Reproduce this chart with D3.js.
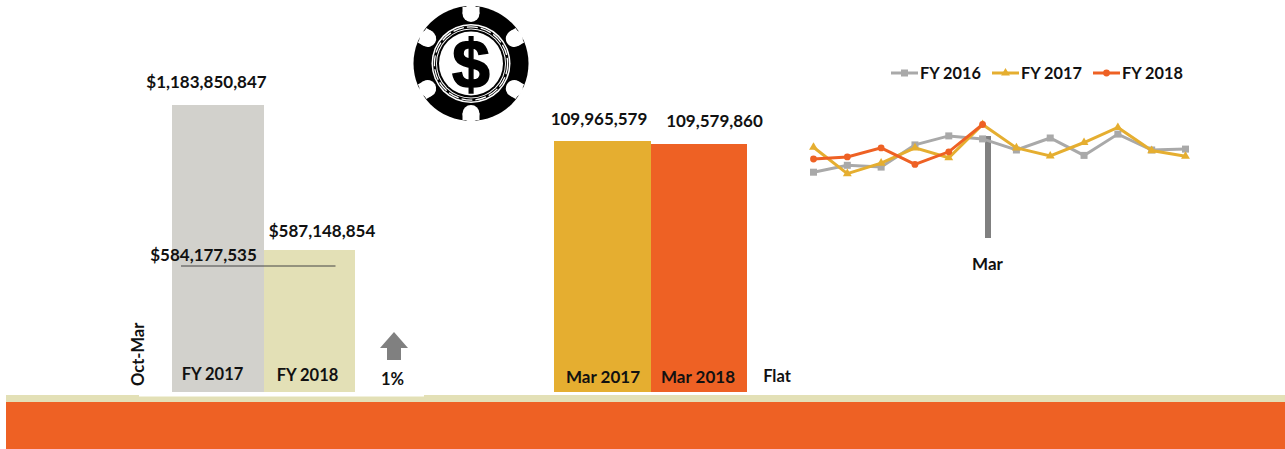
<!DOCTYPE html>
<html><head><meta charset="utf-8">
<script src="https://cdn.jsdelivr.net/npm/d3@7"></script>
<style>html,body{margin:0;padding:0;background:#fff;overflow:hidden}svg{display:block}text{font-family:Lato,"Noto Sans",sans-serif;font-weight:700;fill:#111}</style>
</head><body><svg id="c" width="1285" height="449"></svg>
<script>
const ytdCategories = ["FY 2017", "FY 2018"];
const ytdValues = [1183850847, 587148854];
const ytdColors = ["#d2d1cc", "#e3e0b6"];
const marCategories = ["Mar 2017", "Mar 2018"];
const marValues = [109965579, 109579860];
const marColors = ["#e5ae30", "#ee6124"];
const months = ["Oct","Nov","Dec","Jan","Feb","Mar","Apr","May","Jun","Jul","Aug","Sep"];
const fy2016 = [94.1,96.4,95.8,103.2,106.2,105.2,101.5,105.5,99.7,106.8,101.5,101.8];
const fy2017 = [102.4,93.6,97.1,102.2,98.9,110.0,102.2,99.5,104.0,109.0,101.3,99.4];
const fy2018 = [98.5,99.2,102.2,96.7,100.9,110.0];
const seriesNames = ["FY 2016","FY 2017","FY 2018"];
const seriesColors = ["#a9a9a9","#e5ae30","#ee6124"];

const svg = d3.select("#c");
const fmt = d3.format("$,");
const num = d3.format(",");

// bottom band
svg.append("rect").attr("x",6).attr("y",395).attr("width",1279).attr("height",8).attr("fill","#e3e0b6");
svg.append("rect").attr("x",139).attr("y",395).attr("width",285).attr("height",1.5).attr("fill","#fff");
svg.append("rect").attr("x",6).attr("y",402).attr("width",1279).attr("height",47).attr("fill","#ee6124");

// left bars
const x1 = d3.scaleBand().domain(ytdCategories).range([172,355]);
const y1 = d3.scaleLinear().domain([0,ytdValues[0]]).range([392,105]);
svg.append("g").attr("shape-rendering","crispEdges").selectAll("rect").data(ytdCategories).join("rect")
  .attr("x",d=>x1(d)).attr("width",x1.bandwidth())
  .attr("y",(d,i)=>y1(ytdValues[i])).attr("height",(d,i)=>392-y1(ytdValues[i]))
  .attr("fill",(d,i)=>ytdColors[i]);
const lab = (x,y,t,s=16.5,a="middle")=>svg.append("text").attr("x",x).attr("y",y).attr("text-anchor",a).attr("font-size",s).text(t);
lab(206.5,88,fmt(ytdValues[0]),17);
lab(322,237,fmt(ytdValues[1]),17);
lab(203.5,261,"$584,177,535",17);
svg.append("line").attr("x1",181).attr("x2",335.5).attr("y1",266).attr("y2",266).attr("stroke","#444").attr("stroke-width",1);
lab(212.5,380,ytdCategories[0]);
lab(307.5,381,ytdCategories[1]);
svg.append("text").attr("transform","translate(144,386) rotate(-90)").attr("font-size",16.5).text("Oct-Mar");
// up arrow
svg.append("path").attr("d","M394 332L408 348H401V360H387V348H380Z").attr("fill","#808080");
lab(392.5,385,"1%");

// chip
const chip = svg.append("g").attr("transform","translate(471,63.5)");
chip.append("circle").attr("r",57.5).attr("fill","#000");
d3.range(6).forEach(i=>{
  const g=chip.append("g").attr("transform",`rotate(${i*60})`);
  g.append("circle").attr("cy",-50).attr("r",8.5).attr("fill","#fff");
  g.append("rect").attr("x",-8.5).attr("y",-56.5).attr("width",17).attr("height",6.5).attr("fill","#fff");
});
chip.append("circle").attr("r",39.5).attr("fill","#fff");
chip.append("circle").attr("r",38).attr("fill","#000");
chip.append("circle").attr("r",36.6).attr("fill","none").attr("stroke","#fff").attr("stroke-width",1.3).attr("stroke-dasharray","11 3");
chip.append("circle").attr("r",35).attr("fill","#fff");
chip.append("circle").attr("r",34).attr("fill","#000");
chip.append("circle").attr("r",32).attr("fill","#fff");
chip.append("text").attr("y",24).attr("text-anchor","middle").attr("font-size",68).attr("stroke","#000").attr("stroke-width",1.5).style("fill","#000").style("font-family","'Liberation Sans'").text("$");

// mid bars
const x2 = d3.scaleBand().domain(marCategories).range([554,747]);
const y2 = d3.scaleLinear().domain([77700000,marValues[0]]).range([392,141]);
svg.append("g").attr("shape-rendering","crispEdges").selectAll("rect").data(marCategories).join("rect")
  .attr("x",d=>x2(d)).attr("width",x2.bandwidth())
  .attr("y",(d,i)=>y2(marValues[i])).attr("height",(d,i)=>392-y2(marValues[i]))
  .attr("fill",(d,i)=>marColors[i]);
lab(599,125,num(marValues[0]),17);
lab(714.5,127,num(marValues[1]),17);
lab(603,383,marCategories[0],17);
lab(698,383,marCategories[1],17);
lab(777,382,"Flat",16.5);

// line chart
const x3 = d3.scalePoint().domain(months).range([813.5,1185.5]);
const y3 = d3.scaleLinear().domain([110,70]).range([124.5,244.5]);
svg.append("rect").attr("x",985).attr("y",136).attr("width",6).attr("height",102).attr("fill","#808080");
lab(987.5,270,"Mar",17);
const line = d3.line().x((d,i)=>x3(months[i])).y(d=>y3(d));
const marker = (g,i,x,y)=>{
  const c=seriesColors[i];
  if(i===0) g.append("rect").attr("x",x-3.5).attr("y",y-3.5).attr("width",7).attr("height",7).attr("fill",c);
  else if(i===1) g.append("path").attr("d",d3.symbol(d3.symbolTriangle,34)()).attr("transform",`translate(${x},${y})`).attr("fill",c);
  else g.append("circle").attr("cx",x).attr("cy",y).attr("r",3.4).attr("fill",c);
};
[fy2016,fy2017,fy2018].forEach((vals,i)=>{
  const g=svg.append("g");
  g.append("path").attr("d",line(vals)).attr("fill","none").attr("stroke",seriesColors[i]).attr("stroke-width",3);
  vals.forEach((v,j)=>marker(g,i,x3(months[j]),y3(v)));
});
// legend
const legendX = d3.scaleOrdinal().domain(seriesNames).range([891,992,1093]);
seriesNames.forEach((n,i)=>{
  const g=svg.append("g"), x=legendX(n);
  g.append("line").attr("x1",x).attr("x2",x+27).attr("y1",73).attr("y2",73).attr("stroke",seriesColors[i]).attr("stroke-width",3);
  marker(g,i,x+13.5,73);
  lab(x+29,79,n,16.3,"start");
});
</script></body></html>
